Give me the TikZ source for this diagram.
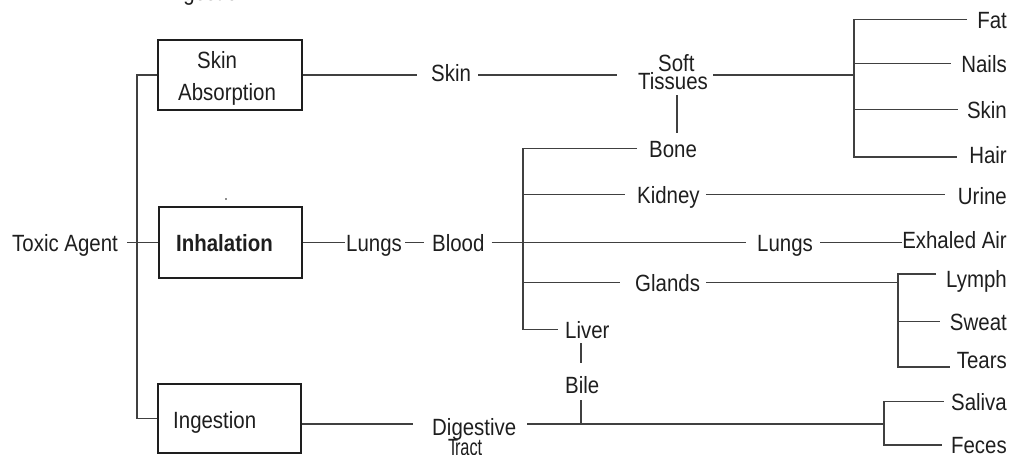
\documentclass[tikz,border=0pt]{standalone}
\usepackage{graphicx}
\usepackage{fontspec}
\setmainfont{Liberation Sans}[FakeStretch=0.87]
\usetikzlibrary{calc}
\definecolor{txt}{HTML}{1E1E1E}
\definecolor{lnc}{HTML}{404040}
\newcommand{\tfont}{\fontsize{23.5pt}{28pt}\selectfont}
\begin{document}
\begin{tikzpicture}[x=1pt,y=-1pt,
  lbl/.style={inner sep=0pt, text height=17pt, text depth=0pt, anchor=west, font=\tfont, text=txt},
  rlbl/.style={lbl, anchor=east},
  box/.style={draw=txt, line width=1.5pt, inner sep=0pt},
  ln/.style={draw=lnc, line width=1.6pt}]
\useasboundingbox (0,0) rectangle (1021,455);
\clip (0,0) rectangle (1021,455);

% boxes
\node[box, minimum width=144pt, minimum height=70pt] (absbox) at (230,75) {};
\node[box, minimum width=143pt, minimum height=71pt] (inhbox) at (230.5,242.5) {};
\node[box, minimum width=143pt, minimum height=69pt] (ingbox) at (229.5,418.5) {};

% texts
\node[lbl] (frag) at (166,-8) {Ingestion};
\node[lbl] (absone) at (197,59.5) {Skin};
\node[lbl] (abstwo) at (178,91.5) {Absorption};
\node[lbl, font=\tfont\bfseries] (inh) at (176,242.5) {Inhalation};
\node[lbl] (ing) at (173,419.5) {Ingestion};
\node[lbl] (toxic) at (12,242.5) {Toxic Agent};
\node[lbl] (skin) at (431,72.5) {Skin};
\node[lbl] (soft) at (658,62.5) {Soft};
\node[lbl] (tissues) at (638,80.5) {Tissues};
\node[lbl] (lungsone) at (346,242.5) {Lungs};
\node[lbl] (blood) at (432,242.5) {Blood};
\node[lbl] (bone) at (649,148.5) {Bone};
\node[lbl] (kidney) at (637,194.5) {Kidney};
\node[lbl] (lungstwo) at (757,242.5) {Lungs};
\node[lbl] (glands) at (635,282.5) {Glands};
\node[lbl] (liver) at (565,329.5) {Liver};
\node[lbl] (bile) at (565,384.5) {Bile};
\node[lbl] (dig) at (432,426.5) {Digestive};
\node[lbl] (tract) at (448,446.5) {\scalebox{0.8}[1]{T\kern-4pt ract}};

\node[rlbl] (fat) at (1007,19.5) {Fat};
\node[rlbl] (nails) at (1007,63.5) {Nails};
\node[rlbl] (skintwo) at (1007,109.5) {Skin};
\node[rlbl] (hair) at (1007,154.5) {Hair};
\node[rlbl] (urine) at (1007,195.5) {Urine};
\node[rlbl] (exh) at (1007,239.5) {Exhaled Air};
\node[rlbl] (lymph) at (1007,278.5) {Lymph};
\node[rlbl] (sweat) at (1007,321.5) {Sweat};
\node[rlbl] (tears) at (1007,359.5) {Tears};
\node[rlbl] (saliva) at (1007,401.5) {Saliva};
\node[rlbl] (feces) at (1007,445) {Feces};

\fill[txt] (226,199) circle (0.8pt);

% junction coordinates
\coordinate (trunk) at (137,0);
\coordinate (b1) at (854,0);
\coordinate (b2) at (523,0);
\coordinate (b3) at (898,0);
\coordinate (b4) at (884,0);
\coordinate (vsb) at (677,0);
\coordinate (vlb) at (581,0);
\coordinate (digy) at (0,424);

% connectors
\draw[ln] (absbox.west) -| (trunk |- ingbox.west) -- (ingbox.west);
\draw[ln] ($(toxic.east)+(9,0)$) -- (inhbox.west);
\draw[ln] (absbox.east) -- ($(skin.west |- absbox.east)+(-14,0)$);
\draw[ln] ($(skin.east |- absbox.east)+(7,0)$) -- ($(tissues.west |- absbox.east)+(-21,0)$);
\draw[ln] ($(tissues.east |- absbox.east)+(5,0)$) -- (b1 |- absbox.east);
\draw[ln] ($(fat.west)+(-10,0)$) -| ($(b1 |- hair.west)+(0,2.5)$) -- ($(hair.west)+(-12,2.5)$);
\draw[ln] (b1 |- nails.west) -- ($(nails.west)+(-10,0)$);
\draw[ln] (b1 |- skintwo.west) -- ($(skintwo.west)+(-9,0)$);
\draw[ln] ($(vsb |- tissues.south)+(0,6)$) -- ($(vsb |- bone.north)+(0,-7)$);
\draw[ln] (inhbox.east) -- ($(lungsone.west)+(-1,0)$);
\draw[ln] ($(lungsone.east)+(3,0)$) -- ($(blood.west)+(-8,0)$);
\draw[ln] ($(blood.east)+(7,0)$) -- ($(lungstwo.west)+(-11,0)$);
\draw[ln] ($(bone.west)+(-12,0)$) -| (b2 |- liver.west) -- ($(liver.west)+(-7,0)$);
\draw[ln] (b2 |- kidney.west) -- ($(kidney.west)+(-12,0)$);
\draw[ln] (b2 |- glands.west) -- ($(glands.west)+(-15,0)$);
\draw[ln] ($(kidney.east)+(6,0)$) -- ($(urine.west |- kidney.east)+(-13,0)$);
\draw[ln] ($(lungstwo.east)+(7,0)$) -- (exh.west |- lungstwo.east);
\draw[ln] ($(glands.east)+(6,0)$) -- (b3 |- glands.east);
\draw[ln] ($(lymph.west)+(-10,-4.5)$) -| ($(b3 |- tears.west)+(0,7.5)$) -- ($(tears.west)+(-7,7.5)$);
\draw[ln] (b3 |- sweat.west) -- ($(sweat.west)+(-10,0)$);
\draw[ln] ($(vlb |- liver.south)+(0,5)$) -- ($(vlb |- bile.north)+(0,-13)$);
\draw[ln] ($(vlb |- bile.south)+(0,7)$) -- (vlb |- digy);
\draw[ln] (ingbox.east |- digy) -- ($(dig.west |- digy)+(-19,0)$);
\draw[ln] ($(dig.east |- digy)+(11,0)$) -- (b4 |- digy);
\draw[ln] ($(saliva.west)+(-7,0)$) -| (b4 |- feces.west) -- ($(feces.west)+(-9,0)$);
\end{tikzpicture}
\end{document}
